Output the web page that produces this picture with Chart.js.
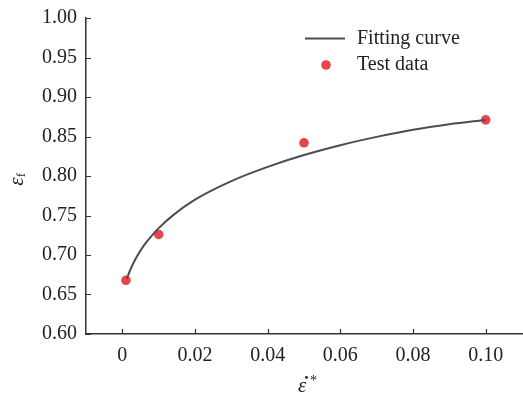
<!DOCTYPE html>
<html>
<head>
<meta charset="utf-8">
<script src="https://cdn.jsdelivr.net/npm/chart.js@4"></script>
<style>
  html, body { margin: 0; padding: 0; background: #fff; overflow: hidden; }
  canvas { display: block; }
</style>
</head>
<body>
<canvas id="chart" width="523" height="397"></canvas>
<script>
// Test data
const testX = [0.001, 0.01, 0.05, 0.10];
const testY = [0.668, 0.726, 0.842, 0.871];

// Fitting curve, sampled along the drawn line
const fitX = [0.0012, 0.0025, 0.004, 0.006, 0.008, 0.01, 0.014, 0.02, 0.03, 0.04, 0.05, 0.06, 0.07, 0.08, 0.09, 0.10];
const fitY = [0.670, 0.6845, 0.698, 0.7125, 0.724, 0.734, 0.7505, 0.770, 0.7935, 0.8115, 0.8265, 0.839, 0.8495, 0.8585, 0.8655, 0.871];

const xTicks = [0, 0.02, 0.04, 0.06, 0.08, 0.10];
const xTickLabels = ['0', '0.02', '0.04', '0.06', '0.08', '0.10'];
const yTicks = [0.60, 0.65, 0.70, 0.75, 0.80, 0.85, 0.90, 0.95, 1.00];
const yTickLabels = ['0.60', '0.65', '0.70', '0.75', '0.80', '0.85', '0.90', '0.95', '1.00'];

const FONT = '"Liberation Serif", "Times New Roman", serif';
const AXIS = '#333333';
const LINE = '#4d4d4d';
const RED = '#e8444c';

// inward ticks, axis titles and legend drawn on the canvas
const extras = {
  id: 'extras',
  afterDraw(chart) {
    const { ctx, chartArea: a, scales: { x, y } } = chart;
    ctx.save();
    ctx.strokeStyle = AXIS;
    ctx.lineWidth = 1.2;
    ctx.beginPath();
    xTicks.forEach(v => {
      const px = Math.round(x.getPixelForValue(v)) + 0.5;
      ctx.moveTo(px, a.bottom);
      ctx.lineTo(px, a.bottom - 5);
    });
    yTicks.forEach(v => {
      const py = Math.round(y.getPixelForValue(v)) + 0.5;
      ctx.moveTo(a.left, py);
      ctx.lineTo(a.left + 5, py);
    });
    ctx.stroke();

    // y title: epsilon with subscript f
    ctx.fillStyle = '#222';
    ctx.save();
    ctx.translate(17, (a.top + a.bottom) / 2 + 3);
    ctx.rotate(-Math.PI / 2);
    ctx.textBaseline = 'middle';
    ctx.textAlign = 'left';
    ctx.font = 'italic 21px ' + FONT;
    const ew = ctx.measureText('ε').width;
    ctx.fillText('ε', -(ew + 5) / 2, 0);
    ctx.font = '13px ' + FONT;
    ctx.fillText('f', -(ew + 5) / 2 + ew, 5);
    ctx.restore();

    // x title: epsilon with a dot above and superscript star
    ctx.textBaseline = 'alphabetic';
    ctx.textAlign = 'left';
    ctx.font = 'italic 21px ' + FONT;
    ctx.fillText('ε', 298, 392);
    ctx.beginPath();
    ctx.arc(306.5, 377.5, 1.4, 0, Math.PI * 2);
    ctx.fill();
    ctx.font = '14px ' + FONT;
    ctx.fillText('*', 310, 385);

    // legend
    const fit = chart.data.datasets[0];
    const pts = chart.data.datasets[1];
    ctx.font = '20px ' + FONT;
    ctx.textBaseline = 'middle';
    ctx.fillStyle = '#222';
    ctx.strokeStyle = fit.borderColor;
    ctx.lineWidth = fit.borderWidth;
    ctx.beginPath();
    ctx.moveTo(305, 38.5);
    ctx.lineTo(345, 38.5);
    ctx.stroke();
    ctx.fillText(fit.label, 357, 39);
    ctx.fillStyle = pts.backgroundColor;
    ctx.beginPath();
    ctx.arc(326, 65, pts.pointRadius, 0, Math.PI * 2);
    ctx.fill();
    ctx.fillStyle = '#222';
    ctx.fillText(pts.label, 357, 65);
    ctx.restore();
  }
};

new Chart(document.getElementById('chart'), {
  type: 'scatter',
  data: {
    datasets: [
      {
        label: 'Fitting curve',
        type: 'line',
        data: fitX.map((v, i) => ({ x: v, y: fitY[i] })),
        borderColor: LINE,
        borderWidth: 2,
        pointRadius: 0,
        fill: false,
        cubicInterpolationMode: 'monotone'
      },
      {
        label: 'Test data',
        data: testX.map((v, i) => ({ x: v, y: testY[i] })),
        backgroundColor: RED,
        borderColor: RED,
        pointRadius: 4.8,
        pointBorderWidth: 0
      }
    ]
  },
  options: {
    responsive: false,
    animation: false,
    layout: { autoPadding: false, padding: { top: 18, right: 1, left: 0, bottom: 0 } },
    plugins: { legend: { display: false }, tooltip: { enabled: false } },
    scales: {
      x: {
        type: 'linear',
        min: -0.01,
        max: 0.11,
        afterBuildTicks: s => { s.ticks = xTicks.map(v => ({ value: v })); },
        afterFit: s => { s.height = 63; s.paddingLeft = 0; s.paddingRight = 0; },
        grid: { display: false, drawTicks: false },
        border: { display: true, color: AXIS, width: 1.5 },
        ticks: {
          padding: 10,
          color: '#222',
          font: { family: FONT, size: 20 },
          callback: (v) => xTickLabels[xTicks.findIndex(t => Math.abs(t - v) < 1e-9)]
        }
      },
      y: {
        min: 0.6,
        max: 1.0,
        afterBuildTicks: s => { s.ticks = yTicks.map(v => ({ value: v })); },
        afterFit: s => { s.width = 86; s.paddingTop = 0; s.paddingBottom = 0; s.paddingLeft = 0; s.paddingRight = 0; },
        grid: { display: false, drawTicks: false },
        border: { display: true, color: AXIS, width: 1.5 },
        ticks: {
          padding: 9,
          color: '#222',
          font: { family: FONT, size: 20 },
          callback: (v) => yTickLabels[yTicks.findIndex(t => Math.abs(t - v) < 1e-9)]
        }
      }
    }
  },
  plugins: [extras]
});
</script>
</body>
</html>
